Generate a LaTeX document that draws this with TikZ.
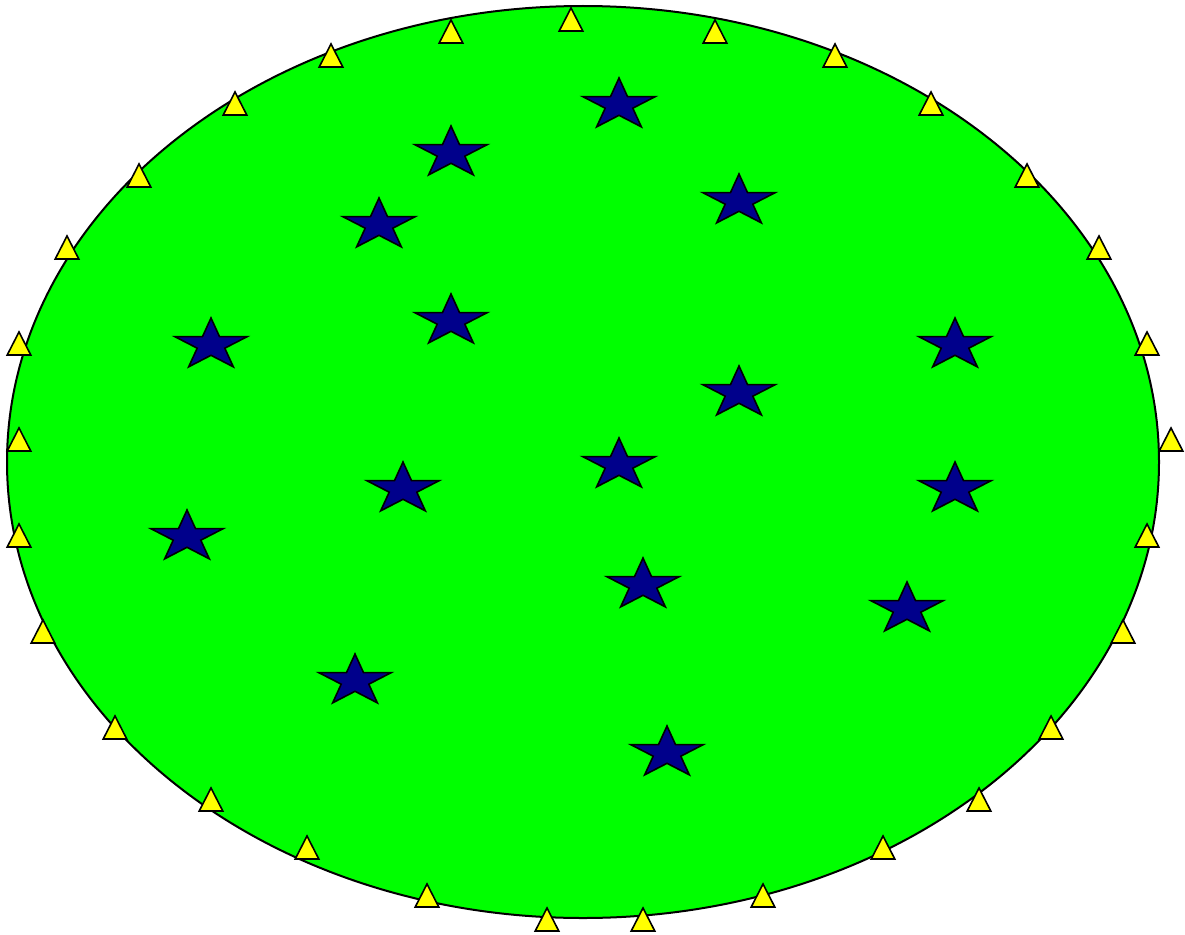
\documentclass[tikz,border=0pt]{standalone}
\usepackage{tikz}
\definecolor{fieldgreen}{RGB}{0,255,0}
\definecolor{starblue}{RGB}{0,0,139}
\definecolor{triyellow}{RGB}{255,255,0}
\tikzset{
  x=1pt, y=-1pt,
  fieldstyle/.style={draw=black, line width=2pt, fill=fieldgreen},
  starstyle/.style={draw=black, line width=1.6pt, fill=starblue, line join=miter},
  tristyle/.style={draw=black, line width=1.6pt, fill=triyellow, line join=miter},
  pics/bluestar/.style={code={
    \draw[starstyle] (0,-27) -- (8.53,-8.34) -- (36.14,-8.34) -- (13.79,3.18)
      -- (22.34,21.84) -- (0,10.3) -- (-22.34,21.84) -- (-13.79,3.18)
      -- (-36.14,-8.34) -- (-8.53,-8.34) -- cycle;}},
  pics/yellowtri/.style={code={
    \draw[tristyle] (0,0) -- (11.8,23) -- (-11.8,23) -- cycle;}}
}
\begin{document}
\begin{tikzpicture}
\useasboundingbox (0,0) rectangle (1185,934);
\draw[fieldstyle] (583,462) ellipse [x radius=576, y radius=456];
% stars (centres)
\foreach \sx/\sy in {619/105, 451/153, 739/201, 379/225, 451/321, 211/345, 955/345,
  739/393, 619/465, 403/489, 955/489, 187/537, 643/585, 907/609, 355/681, 667/753}
  \pic at (\sx,\sy) {bluestar};
% triangles (apex)
\foreach \tx/\ty in {571/8, 715/20, 451/20, 835/44, 331/44, 931/92, 235/92,
  1027/164, 139/164, 1099/236, 67/236, 1147/332, 19/332, 1171/428, 19/428,
  1147/524, 19/524, 1123/620, 43/620, 1051/716, 115/716, 979/788, 211/788,
  883/836, 307/836, 763/884, 427/884, 643/908, 547/908}
  \pic at (\tx,\ty) {yellowtri};
\end{tikzpicture}
\end{document}
